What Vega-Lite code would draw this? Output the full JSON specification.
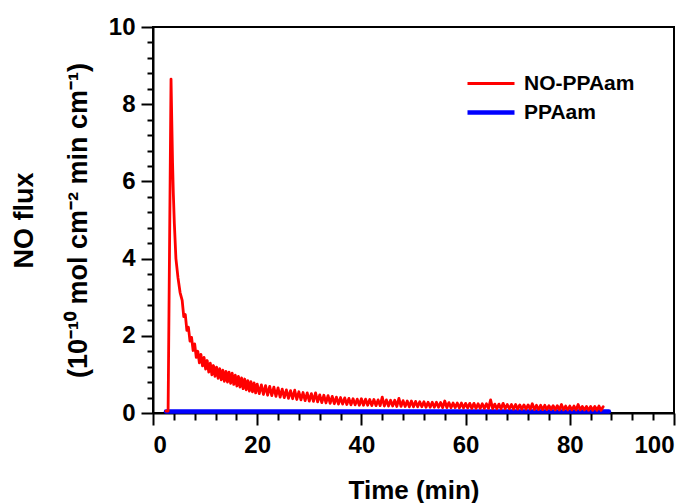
{
  "$schema": "https://vega.github.io/schema/vega-lite/v6.json",
  "width": 521,
  "height": 386,
  "autosize": "none",
  "padding": {"left": 153, "top": 27, "right": 23, "bottom": 90},
  "config": {
    "view": {"stroke": "black", "strokeWidth": 2},
    "font": "Liberation Sans",
    "axis": {
      "domainColor": "black", "domainWidth": 2, "tickColor": "black", "tickWidth": 2,
      "labelFont": "Liberation Sans", "labelFontWeight": "bold", "labelFontSize": 24, "labelColor": "black",
      "titleFont": "Liberation Sans", "titleFontWeight": "bold", "titleFontSize": 26, "titleColor": "black",
      "grid": false
    },
    "legend": {
      "orient": "none", "legendX": 312, "legendY": 46, "padding": 0,
      "title": null, "symbolType": "stroke", "symbolSize": 2209, "clipHeight": 21,
      "labelFont": "Liberation Sans", "labelFontWeight": "bold", "labelFontSize": 21, "labelColor": "black",
      "rowPadding": 7, "labelOffset": 7
    }
  },
  "data": {"values": [
    {"t": 2.5, "v": 0.04, "s": "PPAam"},
    {"t": 87.5, "v": 0.04, "s": "PPAam"},
    {"t": 2.5, "v": 0.05, "s": "NO-PPAam"},
    {"t": 2.9, "v": 0.05, "s": "NO-PPAam"},
    {"t": 3.46, "v": 8.65, "s": "NO-PPAam"},
    {"t": 3.6, "v": 7.6, "s": "NO-PPAam"},
    {"t": 3.75, "v": 6.5, "s": "NO-PPAam"},
    {"t": 3.9, "v": 5.7, "s": "NO-PPAam"},
    {"t": 4.1, "v": 4.9, "s": "NO-PPAam"},
    {"t": 4.4, "v": 4.0, "s": "NO-PPAam"},
    {"t": 4.8, "v": 3.5, "s": "NO-PPAam"},
    {"t": 5.2, "v": 3.12, "s": "NO-PPAam"},
    {"t": 5.6, "v": 2.92, "s": "NO-PPAam"},
    {"t": 5.9, "v": 2.50, "s": "NO-PPAam"},
    {"t": 6.2, "v": 2.55, "s": "NO-PPAam"},
    {"t": 6.5, "v": 2.14, "s": "NO-PPAam"},
    {"t": 6.8, "v": 2.22, "s": "NO-PPAam"},
    {"t": 7.1, "v": 1.86, "s": "NO-PPAam"},
    {"t": 7.4, "v": 1.96, "s": "NO-PPAam"},
    {"t": 7.7, "v": 1.62, "s": "NO-PPAam"},
    {"t": 8.0, "v": 1.79, "s": "NO-PPAam"},
    {"t": 8.3, "v": 1.44, "s": "NO-PPAam"},
    {"t": 8.6, "v": 1.60, "s": "NO-PPAam"},
    {"t": 8.9, "v": 1.30, "s": "NO-PPAam"},
    {"t": 9.2, "v": 1.52, "s": "NO-PPAam"},
    {"t": 9.5, "v": 1.22, "s": "NO-PPAam"},
    {"t": 9.8, "v": 1.44, "s": "NO-PPAam"},
    {"t": 10.1, "v": 1.14, "s": "NO-PPAam"},
    {"t": 10.4, "v": 1.36, "s": "NO-PPAam"},
    {"t": 10.7, "v": 1.06, "s": "NO-PPAam"},
    {"t": 11.0, "v": 1.29, "s": "NO-PPAam"},
    {"t": 11.3, "v": 0.99, "s": "NO-PPAam"},
    {"t": 11.6, "v": 1.23, "s": "NO-PPAam"},
    {"t": 11.9, "v": 0.95, "s": "NO-PPAam"},
    {"t": 12.2, "v": 1.19, "s": "NO-PPAam"},
    {"t": 12.5, "v": 0.90, "s": "NO-PPAam"},
    {"t": 12.8, "v": 1.15, "s": "NO-PPAam"},
    {"t": 13.1, "v": 0.86, "s": "NO-PPAam"},
    {"t": 13.4, "v": 1.11, "s": "NO-PPAam"},
    {"t": 13.7, "v": 0.82, "s": "NO-PPAam"},
    {"t": 14.0, "v": 1.08, "s": "NO-PPAam"},
    {"t": 14.3, "v": 0.80, "s": "NO-PPAam"},
    {"t": 14.6, "v": 1.06, "s": "NO-PPAam"},
    {"t": 14.9, "v": 0.77, "s": "NO-PPAam"},
    {"t": 15.2, "v": 1.03, "s": "NO-PPAam"},
    {"t": 15.5, "v": 0.74, "s": "NO-PPAam"},
    {"t": 15.8, "v": 0.98, "s": "NO-PPAam"},
    {"t": 16.1, "v": 0.70, "s": "NO-PPAam"},
    {"t": 16.4, "v": 0.95, "s": "NO-PPAam"},
    {"t": 16.7, "v": 0.67, "s": "NO-PPAam"},
    {"t": 17.0, "v": 0.91, "s": "NO-PPAam"},
    {"t": 17.3, "v": 0.63, "s": "NO-PPAam"},
    {"t": 17.6, "v": 0.88, "s": "NO-PPAam"},
    {"t": 17.9, "v": 0.60, "s": "NO-PPAam"},
    {"t": 18.2, "v": 0.84, "s": "NO-PPAam"},
    {"t": 18.5, "v": 0.57, "s": "NO-PPAam"},
    {"t": 18.8, "v": 0.81, "s": "NO-PPAam"},
    {"t": 19.1, "v": 0.55, "s": "NO-PPAam"},
    {"t": 19.4, "v": 0.78, "s": "NO-PPAam"},
    {"t": 19.7, "v": 0.52, "s": "NO-PPAam"},
    {"t": 20.0, "v": 0.75, "s": "NO-PPAam"},
    {"t": 20.4, "v": 0.50, "s": "NO-PPAam"},
    {"t": 20.8, "v": 0.73, "s": "NO-PPAam"},
    {"t": 21.2, "v": 0.48, "s": "NO-PPAam"},
    {"t": 21.6, "v": 0.71, "s": "NO-PPAam"},
    {"t": 22.0, "v": 0.46, "s": "NO-PPAam"},
    {"t": 22.4, "v": 0.69, "s": "NO-PPAam"},
    {"t": 22.8, "v": 0.45, "s": "NO-PPAam"},
    {"t": 23.2, "v": 0.67, "s": "NO-PPAam"},
    {"t": 23.6, "v": 0.43, "s": "NO-PPAam"},
    {"t": 24.0, "v": 0.65, "s": "NO-PPAam"},
    {"t": 24.4, "v": 0.41, "s": "NO-PPAam"},
    {"t": 24.8, "v": 0.62, "s": "NO-PPAam"},
    {"t": 25.2, "v": 0.40, "s": "NO-PPAam"},
    {"t": 25.6, "v": 0.60, "s": "NO-PPAam"},
    {"t": 26.0, "v": 0.38, "s": "NO-PPAam"},
    {"t": 26.4, "v": 0.58, "s": "NO-PPAam"},
    {"t": 26.8, "v": 0.37, "s": "NO-PPAam"},
    {"t": 27.2, "v": 0.59, "s": "NO-PPAam"},
    {"t": 27.6, "v": 0.35, "s": "NO-PPAam"},
    {"t": 28.0, "v": 0.55, "s": "NO-PPAam"},
    {"t": 28.4, "v": 0.34, "s": "NO-PPAam"},
    {"t": 28.8, "v": 0.53, "s": "NO-PPAam"},
    {"t": 29.2, "v": 0.32, "s": "NO-PPAam"},
    {"t": 29.6, "v": 0.52, "s": "NO-PPAam"},
    {"t": 30.0, "v": 0.31, "s": "NO-PPAam"},
    {"t": 30.4, "v": 0.50, "s": "NO-PPAam"},
    {"t": 30.8, "v": 0.30, "s": "NO-PPAam"},
    {"t": 31.2, "v": 0.52, "s": "NO-PPAam"},
    {"t": 31.6, "v": 0.29, "s": "NO-PPAam"},
    {"t": 32.0, "v": 0.47, "s": "NO-PPAam"},
    {"t": 32.4, "v": 0.27, "s": "NO-PPAam"},
    {"t": 32.8, "v": 0.46, "s": "NO-PPAam"},
    {"t": 33.2, "v": 0.26, "s": "NO-PPAam"},
    {"t": 33.6, "v": 0.45, "s": "NO-PPAam"},
    {"t": 34.0, "v": 0.25, "s": "NO-PPAam"},
    {"t": 34.4, "v": 0.43, "s": "NO-PPAam"},
    {"t": 34.8, "v": 0.24, "s": "NO-PPAam"},
    {"t": 35.2, "v": 0.41, "s": "NO-PPAam"},
    {"t": 35.6, "v": 0.23, "s": "NO-PPAam"},
    {"t": 36.0, "v": 0.40, "s": "NO-PPAam"},
    {"t": 36.4, "v": 0.23, "s": "NO-PPAam"},
    {"t": 36.8, "v": 0.39, "s": "NO-PPAam"},
    {"t": 37.2, "v": 0.22, "s": "NO-PPAam"},
    {"t": 37.6, "v": 0.38, "s": "NO-PPAam"},
    {"t": 38.0, "v": 0.21, "s": "NO-PPAam"},
    {"t": 38.4, "v": 0.37, "s": "NO-PPAam"},
    {"t": 38.8, "v": 0.21, "s": "NO-PPAam"},
    {"t": 39.2, "v": 0.36, "s": "NO-PPAam"},
    {"t": 39.6, "v": 0.20, "s": "NO-PPAam"},
    {"t": 40.0, "v": 0.37, "s": "NO-PPAam"},
    {"t": 40.4, "v": 0.20, "s": "NO-PPAam"},
    {"t": 40.8, "v": 0.36, "s": "NO-PPAam"},
    {"t": 41.2, "v": 0.20, "s": "NO-PPAam"},
    {"t": 41.6, "v": 0.35, "s": "NO-PPAam"},
    {"t": 42.0, "v": 0.19, "s": "NO-PPAam"},
    {"t": 42.4, "v": 0.35, "s": "NO-PPAam"},
    {"t": 42.8, "v": 0.19, "s": "NO-PPAam"},
    {"t": 43.2, "v": 0.34, "s": "NO-PPAam"},
    {"t": 43.6, "v": 0.19, "s": "NO-PPAam"},
    {"t": 44.0, "v": 0.41, "s": "NO-PPAam"},
    {"t": 44.4, "v": 0.18, "s": "NO-PPAam"},
    {"t": 44.8, "v": 0.34, "s": "NO-PPAam"},
    {"t": 45.2, "v": 0.18, "s": "NO-PPAam"},
    {"t": 45.6, "v": 0.33, "s": "NO-PPAam"},
    {"t": 46.0, "v": 0.18, "s": "NO-PPAam"},
    {"t": 46.4, "v": 0.33, "s": "NO-PPAam"},
    {"t": 46.8, "v": 0.17, "s": "NO-PPAam"},
    {"t": 47.2, "v": 0.38, "s": "NO-PPAam"},
    {"t": 47.6, "v": 0.17, "s": "NO-PPAam"},
    {"t": 48.0, "v": 0.32, "s": "NO-PPAam"},
    {"t": 48.4, "v": 0.17, "s": "NO-PPAam"},
    {"t": 48.8, "v": 0.31, "s": "NO-PPAam"},
    {"t": 49.2, "v": 0.16, "s": "NO-PPAam"},
    {"t": 49.6, "v": 0.31, "s": "NO-PPAam"},
    {"t": 50.0, "v": 0.16, "s": "NO-PPAam"},
    {"t": 50.4, "v": 0.30, "s": "NO-PPAam"},
    {"t": 50.8, "v": 0.16, "s": "NO-PPAam"},
    {"t": 51.2, "v": 0.29, "s": "NO-PPAam"},
    {"t": 51.6, "v": 0.16, "s": "NO-PPAam"},
    {"t": 52.0, "v": 0.29, "s": "NO-PPAam"},
    {"t": 52.4, "v": 0.15, "s": "NO-PPAam"},
    {"t": 52.8, "v": 0.28, "s": "NO-PPAam"},
    {"t": 53.2, "v": 0.15, "s": "NO-PPAam"},
    {"t": 53.6, "v": 0.28, "s": "NO-PPAam"},
    {"t": 54.0, "v": 0.15, "s": "NO-PPAam"},
    {"t": 54.4, "v": 0.28, "s": "NO-PPAam"},
    {"t": 54.8, "v": 0.15, "s": "NO-PPAam"},
    {"t": 55.2, "v": 0.27, "s": "NO-PPAam"},
    {"t": 55.6, "v": 0.14, "s": "NO-PPAam"},
    {"t": 56.0, "v": 0.31, "s": "NO-PPAam"},
    {"t": 56.4, "v": 0.14, "s": "NO-PPAam"},
    {"t": 56.8, "v": 0.27, "s": "NO-PPAam"},
    {"t": 57.2, "v": 0.14, "s": "NO-PPAam"},
    {"t": 57.6, "v": 0.26, "s": "NO-PPAam"},
    {"t": 58.0, "v": 0.14, "s": "NO-PPAam"},
    {"t": 58.4, "v": 0.26, "s": "NO-PPAam"},
    {"t": 58.8, "v": 0.13, "s": "NO-PPAam"},
    {"t": 59.2, "v": 0.26, "s": "NO-PPAam"},
    {"t": 59.6, "v": 0.13, "s": "NO-PPAam"},
    {"t": 60.0, "v": 0.25, "s": "NO-PPAam"},
    {"t": 60.4, "v": 0.13, "s": "NO-PPAam"},
    {"t": 60.8, "v": 0.25, "s": "NO-PPAam"},
    {"t": 61.2, "v": 0.12, "s": "NO-PPAam"},
    {"t": 61.6, "v": 0.25, "s": "NO-PPAam"},
    {"t": 62.0, "v": 0.12, "s": "NO-PPAam"},
    {"t": 62.4, "v": 0.24, "s": "NO-PPAam"},
    {"t": 62.8, "v": 0.12, "s": "NO-PPAam"},
    {"t": 63.2, "v": 0.24, "s": "NO-PPAam"},
    {"t": 63.6, "v": 0.12, "s": "NO-PPAam"},
    {"t": 64.0, "v": 0.24, "s": "NO-PPAam"},
    {"t": 64.4, "v": 0.12, "s": "NO-PPAam"},
    {"t": 64.8, "v": 0.34, "s": "NO-PPAam"},
    {"t": 65.2, "v": 0.11, "s": "NO-PPAam"},
    {"t": 65.6, "v": 0.23, "s": "NO-PPAam"},
    {"t": 66.0, "v": 0.11, "s": "NO-PPAam"},
    {"t": 66.4, "v": 0.23, "s": "NO-PPAam"},
    {"t": 66.8, "v": 0.11, "s": "NO-PPAam"},
    {"t": 67.2, "v": 0.25, "s": "NO-PPAam"},
    {"t": 67.6, "v": 0.11, "s": "NO-PPAam"},
    {"t": 68.0, "v": 0.22, "s": "NO-PPAam"},
    {"t": 68.4, "v": 0.11, "s": "NO-PPAam"},
    {"t": 68.8, "v": 0.22, "s": "NO-PPAam"},
    {"t": 69.2, "v": 0.10, "s": "NO-PPAam"},
    {"t": 69.6, "v": 0.22, "s": "NO-PPAam"},
    {"t": 70.0, "v": 0.10, "s": "NO-PPAam"},
    {"t": 70.4, "v": 0.21, "s": "NO-PPAam"},
    {"t": 70.8, "v": 0.10, "s": "NO-PPAam"},
    {"t": 71.2, "v": 0.21, "s": "NO-PPAam"},
    {"t": 71.6, "v": 0.10, "s": "NO-PPAam"},
    {"t": 72.0, "v": 0.21, "s": "NO-PPAam"},
    {"t": 72.4, "v": 0.10, "s": "NO-PPAam"},
    {"t": 72.8, "v": 0.24, "s": "NO-PPAam"},
    {"t": 73.2, "v": 0.09, "s": "NO-PPAam"},
    {"t": 73.6, "v": 0.20, "s": "NO-PPAam"},
    {"t": 74.0, "v": 0.09, "s": "NO-PPAam"},
    {"t": 74.4, "v": 0.20, "s": "NO-PPAam"},
    {"t": 74.8, "v": 0.09, "s": "NO-PPAam"},
    {"t": 75.2, "v": 0.20, "s": "NO-PPAam"},
    {"t": 75.6, "v": 0.09, "s": "NO-PPAam"},
    {"t": 76.0, "v": 0.19, "s": "NO-PPAam"},
    {"t": 76.4, "v": 0.09, "s": "NO-PPAam"},
    {"t": 76.8, "v": 0.19, "s": "NO-PPAam"},
    {"t": 77.2, "v": 0.08, "s": "NO-PPAam"},
    {"t": 77.6, "v": 0.19, "s": "NO-PPAam"},
    {"t": 78.0, "v": 0.08, "s": "NO-PPAam"},
    {"t": 78.4, "v": 0.22, "s": "NO-PPAam"},
    {"t": 78.8, "v": 0.08, "s": "NO-PPAam"},
    {"t": 79.2, "v": 0.18, "s": "NO-PPAam"},
    {"t": 79.6, "v": 0.08, "s": "NO-PPAam"},
    {"t": 80.0, "v": 0.18, "s": "NO-PPAam"},
    {"t": 80.4, "v": 0.08, "s": "NO-PPAam"},
    {"t": 80.8, "v": 0.18, "s": "NO-PPAam"},
    {"t": 81.2, "v": 0.08, "s": "NO-PPAam"},
    {"t": 81.6, "v": 0.22, "s": "NO-PPAam"},
    {"t": 82.0, "v": 0.08, "s": "NO-PPAam"},
    {"t": 82.4, "v": 0.17, "s": "NO-PPAam"},
    {"t": 82.8, "v": 0.08, "s": "NO-PPAam"},
    {"t": 83.2, "v": 0.17, "s": "NO-PPAam"},
    {"t": 83.6, "v": 0.07, "s": "NO-PPAam"},
    {"t": 84.0, "v": 0.17, "s": "NO-PPAam"},
    {"t": 84.4, "v": 0.07, "s": "NO-PPAam"},
    {"t": 84.8, "v": 0.17, "s": "NO-PPAam"},
    {"t": 85.2, "v": 0.07, "s": "NO-PPAam"},
    {"t": 85.6, "v": 0.18, "s": "NO-PPAam"},
    {"t": 86.0, "v": 0.07, "s": "NO-PPAam"},
    {"t": 86.4, "v": 0.16, "s": "NO-PPAam"}
  ]},
  "layer": [
    {
      "mark": {"type": "line", "strokeCap": "round", "strokeJoin": "round"},
      "encoding": {
        "x": {"field": "t", "type": "quantitative",
          "scale": {"domain": [0, 100], "nice": false},
          "axis": {"orient": "bottom", "values": [0, 20, 40, 60, 80, 100], "tickSize": 12, "labelPadding": 8, "title": "Time (min)", "titlePadding": 20}},
        "y": {"field": "v", "type": "quantitative",
          "scale": {"domain": [0, 10], "nice": false},
          "axis": {"orient": "left", "values": [0, 2, 4, 6, 8, 10], "tickSize": 12, "labelPadding": 6,
            "title": ["NO flux", "(10⁻¹⁰ mol cm⁻² min cm⁻¹)"], "titleFontSize": 27, "titleLineHeight": 54, "titlePadding": 16}},
        "color": {"field": "s", "type": "nominal",
          "scale": {"domain": ["NO-PPAam", "PPAam"], "range": ["#ff0000", "#0000ff"]}},
        "strokeWidth": {"field": "s", "type": "nominal",
          "scale": {"type": "ordinal", "domain": ["NO-PPAam", "PPAam"], "range": [2.8, 4.5]}}
      }
    },
    {
      "mark": {"type": "point", "opacity": 0},
      "encoding": {
        "x": {"field": "t", "type": "quantitative",
          "axis": {"orient": "bottom", "values": [4, 8, 12, 16, 24, 28, 32, 36, 44, 48, 52, 56, 64, 68, 72, 76, 84, 88, 92, 96], "tickSize": 7, "labels": false, "domain": false, "title": null}},
        "y": {"field": "v", "type": "quantitative",
          "axis": {"orient": "left", "values": [0.4, 0.8, 1.2, 1.6, 2.4, 2.8, 3.2, 3.6, 4.4, 4.8, 5.2, 5.6, 6.4, 6.8, 7.2, 7.6, 8.4, 8.8, 9.2, 9.6], "tickSize": 6, "labels": false, "domain": false, "title": null}}
      }
    }
  ],
  "resolve": {"axis": {"x": "independent", "y": "independent"}}
}
